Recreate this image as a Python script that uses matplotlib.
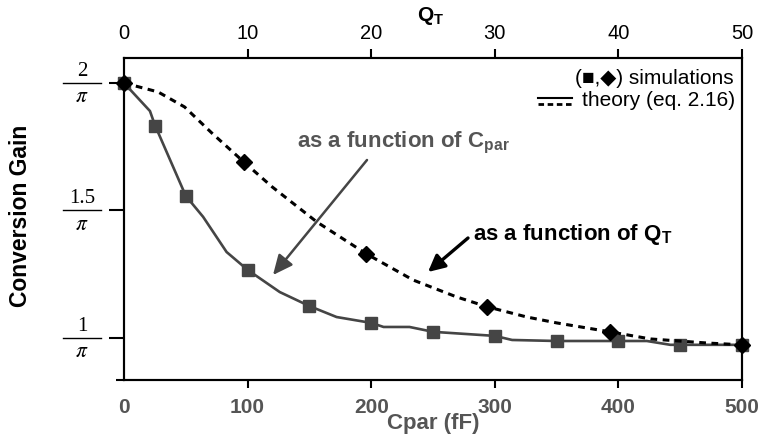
import matplotlib
matplotlib.use("Agg")
import matplotlib.pyplot as plt
from matplotlib import transforms

plt.rcParams['font.family'] = ['Liberation Sans', 'DejaVu Sans']
plt.rcParams['mathtext.fontset'] = 'custom'
plt.rcParams['mathtext.rm'] = 'Liberation Sans'
plt.rcParams['mathtext.bf'] = 'Liberation Sans:bold'
plt.rcParams['mathtext.it'] = 'Liberation Sans:italic'

# ---- data (gain in units of 1/pi) ----
cpar_sim_x = [0, 25, 50, 100, 150, 200, 250, 300, 350, 400, 450, 500]
cpar_sim_y = [2.0, 1.831, 1.557, 1.267, 1.125, 1.059, 1.024, 1.008, 0.988, 0.988, 0.973, 0.973]

cpar_theory_x = [0, 21, 25, 50, 64, 83, 100, 126, 150, 172, 200, 210, 231, 250, 300, 314, 350, 400, 423, 442, 450, 500]
cpar_theory_y = [2.0, 1.89, 1.835, 1.557, 1.475, 1.337, 1.267, 1.18, 1.125, 1.082, 1.059, 1.043, 1.043, 1.024,
                 1.008, 0.992, 0.988, 0.988, 0.988, 0.973, 0.973, 0.973]

qt_sim_x = [0, 9.7, 19.6, 29.4, 39.3, 50]
qt_sim_y = [2.0, 1.69, 1.33, 1.122, 1.024, 0.973]

qt_theory_x = [0, 2.75, 4.9, 7.1, 9.7, 12, 15.6, 19.6, 23.4, 26.9, 29.4, 32.6, 35, 39.3, 42.6, 47.2, 50]
qt_theory_y = [2.0, 1.965, 1.906, 1.804, 1.69, 1.592, 1.455, 1.33, 1.227, 1.161, 1.122, 1.082, 1.059, 1.024,
               0.996, 0.98, 0.973]

cpar_ticks = [0, 100, 200, 300, 400, 500]
qt_ticks = [0, 10, 20, 30, 40, 50]
gain_ticks = [1.0, 1.5, 2.0]
gain_tick_nums = ['1', '1.5', '2']

GRAY = '#454545'
TXTGRAY = '#555555'

W, H = 765, 441
fig = plt.figure(figsize=(W / 100, H / 100), dpi=100)
ax = fig.add_axes([124 / W, 1 - 380 / H, (742 - 124) / W, (380 - 58) / H])
ax.set_xlim(0, 500)
ax.set_ylim(0.835, 2.098)

ax.plot(cpar_theory_x, cpar_theory_y, color=GRAY, lw=1.9, zorder=3, clip_on=False)
ax.plot(cpar_sim_x, cpar_sim_y, ls='none', marker='s', ms=8, color=GRAY, zorder=4, clip_on=False)

ax2 = ax.twiny()
ax2.set_xlim(0, 50)
ax2.plot(qt_theory_x, qt_theory_y, color='black', lw=2.2, ls=(0, (2.2, 1.8)), zorder=3, clip_on=False)
ax2.plot(qt_sim_x, qt_sim_y, ls='none', marker='D', ms=8.5, color='black', zorder=5, clip_on=False)

for sp in list(ax.spines.values()) + list(ax2.spines.values()):
    sp.set_linewidth(1.5)

# bottom axis
ax.set_xticks(cpar_ticks)
ax.set_xticklabels([str(v) for v in cpar_ticks], fontsize=15, fontweight='bold', color=TXTGRAY)
ax.tick_params(axis='x', direction='out', length=6, width=1.5, pad=7)
ax.xaxis.get_major_ticks()[0].tick1line.set_visible(False)
ax.set_xlabel('Cpar (fF)', fontsize=16, fontweight='bold', color=TXTGRAY, labelpad=-3)

# top axis
ax2.set_xticks(qt_ticks)
ax2.set_xticklabels([str(v) for v in qt_ticks], fontsize=14.5)
ax2.tick_params(axis='x', direction='out', length=6.5, width=1.5, pad=4)
ax2.xaxis.get_major_ticks()[0].tick2line.set_visible(False)
fig.text(417 / W, 1 - 16 / H, r'$\mathbf{Q}_\mathbf{T}$', fontsize=15, ha='left', va='center')

# y axis
ax.set_yticks(gain_ticks)
ax.set_yticklabels([])
ax.tick_params(axis='y', direction='out', length=11, width=1.5)
ax.set_yticks([0.835], minor=True)
ax.tick_params(axis='y', which='minor', direction='out', length=6, width=1.5)
bt = transforms.blended_transform_factory(ax.transAxes, ax.transData)
xa0 = (63 - 124) / 618
xa1 = (101 - 124) / 618
xc = (xa0 + xa1) / 2
for v, num in zip(gain_ticks, gain_tick_nums):
    ax.plot([xa0, xa1], [v, v], color='black', lw=1.0, transform=bt, clip_on=False)
    ax.text(xc, v, num, transform=transforms.offset_copy(bt, fig, x=0, y=1.5, units='points'),
            ha='center', va='bottom', fontsize=15, family='Liberation Serif')
    ax.text(xc, v, r'$\pi$', transform=transforms.offset_copy(bt, fig, x=0, y=-2.5, units='points'),
            ha='center', va='top', fontsize=15.5, math_fontfamily='stix')
fig.text(21 / W, 1 - 216 / H, 'Conversion Gain', rotation=90, fontsize=16.5, fontweight='bold',
         ha='center', va='center')

# legend (text)
fig.text(734 / W, 1 - 79 / H, '(\u25a0,\u25c6) simulations', fontsize=15, ha='right', va='center')
fig.text(735 / W, 1 - 101 / H, 'theory (eq. 2.16)', fontsize=15, ha='right', va='center')
lt = fig.transFigure
fig.add_artist(plt.Line2D([538 / W, 572 / W], [1 - 98 / H, 1 - 98 / H], color='black', lw=1.5, transform=lt))
fig.add_artist(plt.Line2D([538 / W, 572 / W], [1 - 104 / H, 1 - 104 / H], color='black', lw=2,
                          ls=(0, (2, 1.3)), transform=lt))

# annotations
def fp(x, y):
    return (x / W, 1 - y / H)

fig.text(*fp(297, 147), r'as a function of C$_\mathbf{par}$', fontsize=16, fontweight='bold',
         color=TXTGRAY, ha='left', va='baseline')
ax.annotate('', xy=fp(273, 275), xycoords='figure fraction', xytext=fp(367, 160), textcoords='figure fraction',
            arrowprops=dict(arrowstyle='-|>,head_length=1.2,head_width=0.55', color=GRAY, lw=1.8,
                            shrinkA=0, shrinkB=0))
fig.text(*fp(473, 240), r'as a function of Q$_\mathbf{T}$', fontsize=16, fontweight='bold',
         color='black', ha='left', va='baseline')
ax.annotate('', xy=fp(428, 272), xycoords='figure fraction', xytext=fp(468, 238), textcoords='figure fraction',
            arrowprops=dict(arrowstyle='-|>,head_length=1.0,head_width=0.5', color='black', lw=2.4,
                            shrinkA=0, shrinkB=0))

fig.savefig('out.png', dpi=100)
